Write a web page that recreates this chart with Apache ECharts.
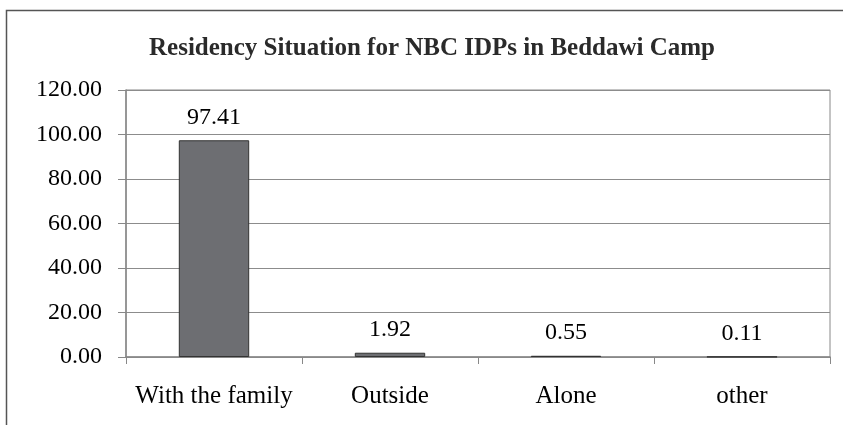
<!DOCTYPE html>
<html>
<head>
<meta charset="utf-8">
<script src="https://cdn.jsdelivr.net/npm/echarts@6/dist/echarts.min.js"></script>
<style>html,body{margin:0;padding:0;background:#fff;}#c{width:843px;height:425px;}</style>
</head>
<body>
<div id="c"></div>
<script>
const categories = ['With the family', 'Outside', 'Alone', 'other'];
const values = [97.41, 1.92, 0.55, 0.11];
const yTicks = [0, 20, 40, 60, 80, 100, 120];
const titleText = 'Residency Situation for NBC IDPs in Beddawi Camp';

const font = '"Liberation Serif", "Times New Roman", serif';
const chart = echarts.init(document.getElementById('c'), null, {renderer: 'canvas'});
chart.setOption({
  animation: false,
  backgroundColor: '#fff',
  title: {
    text: titleText,
    left: 144,
    top: 31,
    textStyle: {fontFamily: font, fontSize: 25, fontWeight: 'bold', color: '#2a2a2a'}
  },
  graphic: [{
    type: 'rect',
    shape: {x: 6.5, y: 10.5, width: 900, height: 600},
    style: {fill: 'none', stroke: '#555', lineWidth: 1.5},
    silent: true, z: 100
  }],
  grid: {left: 126, right: 13, top: 90, bottom: 68, show: true, borderColor: '#888', borderWidth: 1},
  xAxis: {
    type: 'category',
    data: categories,
    axisLine: {lineStyle: {color: '#888', width: 1.5}},
    axisTick: {show: true, length: 7, lineStyle: {color: '#888'}},
    axisLabel: {interval: 0, fontFamily: font, fontSize: 25, color: '#000', margin: 27}
  },
  yAxis: {
    type: 'value',
    min: yTicks[0],
    max: yTicks[yTicks.length - 1],
    interval: yTicks[1] - yTicks[0],
    axisLine: {show: true, lineStyle: {color: '#888', width: 1.5}},
    axisTick: {show: true, length: 8, lineStyle: {color: '#888'}},
    axisLabel: {fontFamily: font, fontSize: 24, color: '#000', margin: 24,
      formatter: v => v.toFixed(2)},
    splitLine: {lineStyle: {color: '#8c8c8c', width: 1}}
  },
  series: [{
    type: 'bar',
    data: values,
    barWidth: '40%',
    itemStyle: {color: '#6d6e72', borderColor: '#333', borderWidth: 1},
    label: {show: true, position: 'top', distance: 11, fontFamily: font, fontSize: 24, color: '#000',
      formatter: p => p.value.toFixed(2)}
  }]
});
</script>
</body>
</html>
